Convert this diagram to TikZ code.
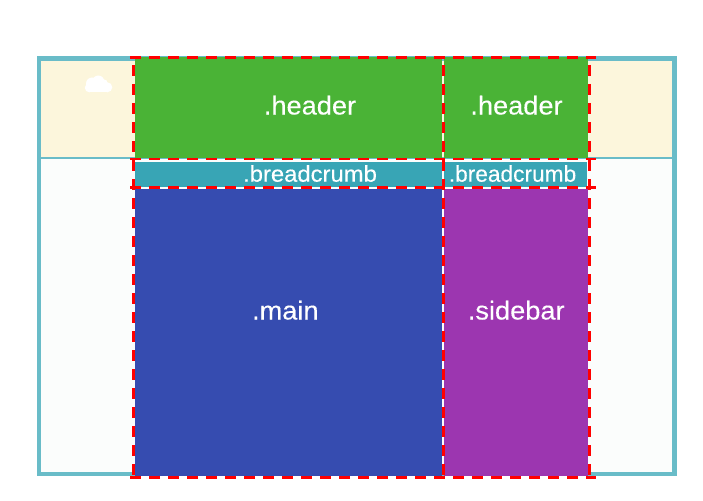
\documentclass[tikz,border=0pt]{standalone}
\usepackage{fontspec}
\setmainfont{Liberation Sans}
\newfontfamily\widelabel[FakeStretch=1.05,FakeBold=0.25]{Liberation Sans}
\newfontfamily\tightlabel[FakeStretch=1.0,FakeBold=0.25]{Liberation Sans}
\definecolor{frameteal}{HTML}{69BCC8}
\definecolor{creamfill}{HTML}{FCF6DC}
\definecolor{palefill}{HTML}{FBFDFC}
\definecolor{headgreen}{HTML}{4AB336}
\definecolor{crumbteal}{HTML}{38A5B5}
\definecolor{mainblue}{HTML}{364CB0}
\definecolor{sidepurple}{HTML}{9C36B0}
\tikzset{
  x=1pt,y=-1pt,
  bigtext/.style={font=\widelabel\fontsize{25.9}{28}\selectfont,text=white,anchor=base,inner sep=0pt},
  smalltext/.style={font=\widelabel\fontsize{22.7}{25}\selectfont,text=white,anchor=base,inner sep=0pt},
  tighttext/.style={font=\tightlabel\fontsize{22.7}{25}\selectfont,text=white,anchor=base,inner sep=0pt},
  guide/.style={draw=red,line width=#1,dash pattern=on 11pt off 8pt},
  guide/.default=3.3pt,
  framerule/.style={draw=frameteal,line width=4.4pt},
}
\begin{document}
\begin{tikzpicture}
\useasboundingbox (0,0) rectangle (703,500);
\fill[white] (0,0) rectangle (703,500);
% page frame
\fill[palefill] (38.5,58.5) rectangle (674.5,474);
\fill[creamfill] (38.5,58.5) rectangle (674.5,157);
\draw[frameteal,line width=2.3pt] (40,157.7) -- (673,157.7);
\draw[framerule] (38.9,58.7) rectangle (674.5,474);
% grid items
\fill[headgreen] (135,57) rectangle (441.8,158);
\fill[headgreen] (444.3,57) rectangle (588,158);
\fill[crumbteal] (134.5,161.7) rectangle (441.8,186.8);
\fill[crumbteal] (444.3,161.7) rectangle (587.3,186.8);
\fill[mainblue] (135,189) rectangle (441.8,476);
\fill[sidepurple] (444.3,189) rectangle (587.5,476);
% labels
\node[bigtext] (headerA) at (310,114.5) {.header};
\node[bigtext] (headerB) at (516.5,114.5) {.header};
\node[smalltext] (crumbA) at (310,181.7) {.breadcrumb};
\node[tighttext] (crumbB) at (512.5,181.7) {.breadcrumb};
\node[bigtext] (mainL) at (285.3,319.5) {.main};
\node[bigtext] (sideL) at (516.2,319.5) {.sidebar};
% red guides
\draw[guide] (130,57.7) -- (596,57.7);
\draw[guide=2.2pt] (130,159.3) -- (596,159.3);
\draw[guide=2.8pt] (130,187.7) -- (596,187.7);
\draw[guide] (130,477.6) -- (596,477.6);
\foreach \xx in {133.3,443.3,589.3}
  \draw[guide,dash phase=11pt] (\xx,57) -- (\xx,478);
% cloud
\fill[white] (89.3,87.8) circle (4.5) (107.3,87.3) circle (5) (92,83.5) circle (6)
  (98.3,81.5) circle (6) (103,84) circle (5);
\fill[white] (89.3,85) rectangle (107.3,92.3);
\end{tikzpicture}
\end{document}
